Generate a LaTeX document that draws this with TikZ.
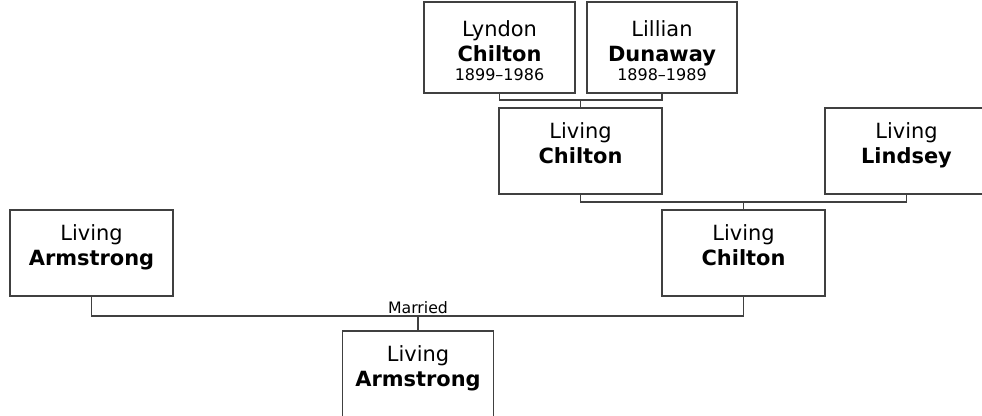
\documentclass[tikz,border=0pt]{standalone}
\usepackage{fontspec}
\setmainfont{DejaVu Sans}
\usetikzlibrary{calc}
\begin{document}
\begin{tikzpicture}[x=0.75pt,y=-0.75pt,
  personbox/.style={draw=black!75,line width=1pt,fill=white,inner sep=0pt},
  namebox/.style={anchor=north,inner sep=0pt,align=center,text=black,
    font=\fontsize{15.7}{18.75}\selectfont},
  conn/.style={draw=black!75,line width=1pt},
  marr/.style={font=\fontsize{11.8}{13}\selectfont,inner sep=1.5pt,anchor=south}]
\useasboundingbox (0,0) rectangle (982,415);
\clip (0,0) rectangle (982,415);
% boxes
\node[personbox,minimum width=113.25pt,minimum height=68.25pt] (lyndon) at (499.5,47.5) {};
\node[personbox,minimum width=112.5pt,minimum height=68.25pt] (lillian) at (662,47.5) {};
\node[personbox,minimum width=122.25pt,minimum height=64.5pt] (chilton2) at (580.5,151) {};
\node[personbox,minimum width=122.25pt,minimum height=64.5pt] (lindsey) at (906.5,151) {};
\node[personbox,minimum width=122.25pt,minimum height=64.5pt] (chilton3) at (743.5,253) {};
\node[personbox,minimum width=122.25pt,minimum height=64.5pt] (arml) at (91.5,253) {};
\node[personbox,minimum width=113.25pt,minimum height=64.5pt] (armb) at (418,374) {};
% texts
\node[namebox] (tlyndon) at ($(lyndon.north)+(0,19)$) {Lyndon\\\textbf{Chilton}\\[-4.5pt]{\fontsize{12}{14}\selectfont 1899–1986}};
\node[namebox] (tlillian) at ($(lillian.north)+(0,19)$) {Lillian\\\textbf{Dunaway}\\[-4.5pt]{\fontsize{12}{14}\selectfont 1898–1989}};
\node[namebox] (tchilton2) at ($(chilton2.north)+(0,15)$) {Living\\\textbf{Chilton}};
\node[namebox] (tlindsey) at ($(lindsey.north)+(0,15)$) {Living\\\textbf{Lindsey}};
\node[namebox] (tchilton3) at ($(chilton3.north)+(0,15)$) {Living\\\textbf{Chilton}};
\node[namebox] (tarml) at ($(arml.north)+(0,15)$) {Living\\\textbf{Armstrong}};
\node[namebox] (tarmb) at ($(armb.north)+(0,15)$) {Living\\\textbf{Armstrong}};
% connectors
\coordinate (j1) at (580.5,100);
\coordinate (j2) at (743.5,202);
\coordinate (j3) at (418,316);
\draw[conn] (lyndon.south) |- (j1) -| (lillian.south);
\draw[conn] (j1) -- (chilton2.north);
\draw[conn] (chilton2.south) |- (j2) -| (lindsey.south);
\draw[conn] (j2) -- (chilton3.north);
\draw[conn] (arml.south) |- (j3) -| (chilton3.south);
\draw[conn] (j3) -- (armb.north);
\node[marr] (married) at (j3) {Married};
\end{tikzpicture}
\end{document}
